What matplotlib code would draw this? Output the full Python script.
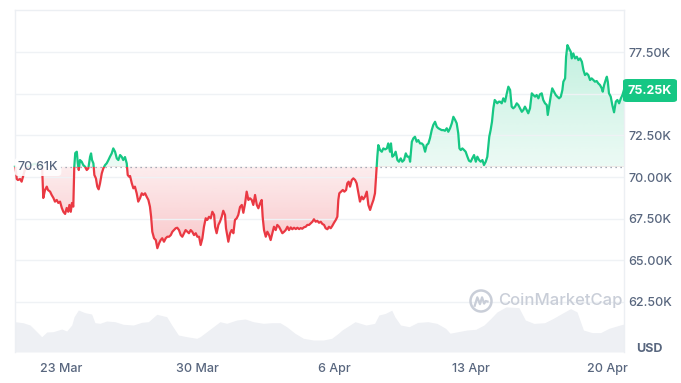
import numpy as np
import matplotlib
matplotlib.use("Agg")
import matplotlib.pyplot as plt
from matplotlib.patches import Polygon, Rectangle, Circle, FancyBboxPatch
from matplotlib.colors import to_rgb

plt.rcParams['font.family'] = ['Inter', 'DejaVu Sans']

# ---------------- data ----------------
# days since 23 Mar (00:00); price in thousands of USD
days = [
    -2.36, -2.31, -2.27, -2.21, -2.10, -2.02, -1.85, -1.59, -1.33, -1.08,
    -0.97, -0.91, -0.82, -0.73, -0.67, -0.56, -0.48, -0.39, -0.31, -0.22,
    -0.14, -0.05, 0.04, 0.12, 0.21, 0.29, 0.37, 0.43, 0.50, 0.56,
    0.63, 0.68, 0.73, 0.81, 0.86, 0.91, 0.97, 1.06, 1.14, 1.23,
    1.32, 1.40, 1.49, 1.54, 1.59, 1.66, 1.71, 1.79, 1.86, 1.93,
    2.00, 2.09, 2.17, 2.26, 2.34, 2.43, 2.51, 2.60, 2.68, 2.77,
    2.86, 2.94, 3.03, 3.11, 3.19, 3.28, 3.37, 3.42, 3.49, 3.54,
    3.63, 3.71, 3.79, 3.88, 3.96, 4.05, 4.14, 4.22, 4.31, 4.39,
    4.48, 4.56, 4.62, 4.68, 4.77, 4.86, 4.94, 5.03, 5.11, 5.19,
    5.28, 5.37, 5.45, 5.54, 5.63, 5.71, 5.79, 5.88, 5.96, 6.05,
    6.14, 6.22, 6.31, 6.39, 6.48, 6.56, 6.65, 6.73, 6.82, 6.91,
    6.99, 7.08, 7.16, 7.25, 7.33, 7.42, 7.50, 7.59, 7.68, 7.76,
    7.85, 7.90, 7.98, 8.07, 8.15, 8.24, 8.32, 8.41, 8.46, 8.58,
    8.67, 8.75, 8.84, 8.92, 9.01, 9.09, 9.18, 9.27, 9.35, 9.44,
    9.52, 9.61, 9.69, 9.78, 9.86, 9.95, 10.04, 10.12, 10.21, 10.29,
    10.34, 10.41, 10.50, 10.58, 10.67, 10.75, 10.84, 10.92, 11.01, 11.09,
    11.18, 11.27, 11.35, 11.44, 11.52, 11.61, 11.69, 11.78, 11.86, 11.95,
    12.04, 12.12, 12.21, 12.29, 12.37, 12.46, 12.55, 12.63, 12.72, 12.81,
    12.89, 12.97, 13.06, 13.14, 13.23, 13.32, 13.40, 13.49, 13.57, 13.66,
    13.74, 13.83, 13.91, 14.00, 14.09, 14.17, 14.22, 14.27, 14.36, 14.45,
    14.53, 14.62, 14.68, 14.75, 14.82, 14.91, 14.99, 15.08, 15.16, 15.25,
    15.33, 15.42, 15.50, 15.59, 15.68, 15.76, 15.85, 15.93, 16.02, 16.10,
    16.19, 16.22, 16.27, 16.36, 16.45, 16.53, 16.62, 16.71, 16.78, 16.87,
    16.92, 16.99, 17.08, 17.16, 17.25, 17.33, 17.42, 17.50, 17.59, 17.68,
    17.76, 17.85, 17.90, 17.99, 18.07, 18.15, 18.24, 18.32, 18.41, 18.50,
    18.58, 18.67, 18.75, 18.84, 18.92, 19.01, 19.09, 19.18, 19.27, 19.35,
    19.44, 19.52, 19.61, 19.69, 19.78, 19.86, 19.95, 20.04, 20.12, 20.21,
    20.29, 20.37, 20.43, 20.50, 20.58, 20.67, 20.75, 20.84, 20.92, 21.01,
    21.09, 21.18, 21.27, 21.35, 21.44, 21.52, 21.61, 21.69, 21.78, 21.86,
    21.91, 21.96, 22.03, 22.10, 22.17, 22.24, 22.31, 22.37, 22.45, 22.51,
    22.60, 22.68, 22.77, 22.86, 22.94, 23.03, 23.11, 23.19, 23.28, 23.37,
    23.45, 23.54, 23.63, 23.71, 23.79, 23.88, 23.96, 24.05, 24.14, 24.22,
    24.31, 24.39, 24.48, 24.56, 24.65, 24.73, 24.82, 24.91, 24.96, 25.03,
    25.11, 25.19, 25.28, 25.37, 25.45, 25.54, 25.63, 25.71, 25.76, 25.85,
    25.90, 25.97, 26.05, 26.14, 26.19, 26.27, 26.36, 26.45, 26.53, 26.62,
    26.71, 26.79, 26.87, 26.96, 27.04, 27.13, 27.21, 27.30, 27.38, 27.47,
    27.55, 27.64, 27.73, 27.78, 27.85, 27.93, 27.99, 28.04, 28.10, 28.19,
    28.27, 28.36, 28.45, 28.53, 28.62, 28.71, 28.79, 28.87,
]
price = [
    70.62, 70.32, 69.88, 69.82, 69.88, 69.72, 70.45, 70.70, 70.80, 70.70,
    70.60, 68.74, 69.22, 69.42, 69.22, 69.12, 68.92, 68.74, 68.52, 68.62,
    68.44, 68.52, 68.14, 67.91, 67.78, 68.14, 67.91, 68.32, 67.91, 68.44,
    68.22, 70.62, 71.44, 71.52, 70.84, 70.42, 71.02, 70.92, 70.72, 70.62,
    70.42, 70.52, 71.22, 71.42, 71.02, 70.82, 70.12, 69.92, 69.42, 69.26,
    69.62, 70.22, 70.52, 70.72, 70.82, 71.02, 71.22, 71.42, 71.72, 71.52,
    71.12, 71.02, 71.32, 71.22, 71.02, 71.20, 70.82, 70.12, 70.02, 70.06,
    69.62, 69.32, 69.42, 69.02, 68.52, 68.72, 69.02, 68.92, 69.02, 68.82,
    68.62, 68.22, 67.61, 66.71, 66.32, 66.21, 65.72, 66.02, 66.21, 66.32,
    66.11, 66.32, 66.41, 66.41, 66.51, 66.71, 66.81, 66.92, 66.95, 66.81,
    66.51, 66.41, 66.62, 66.81, 66.71, 66.62, 66.81, 66.71, 66.51, 66.62,
    66.41, 66.41, 65.91, 66.32, 67.01, 67.52, 67.42, 67.61, 67.52, 67.91,
    67.72, 67.01, 66.62, 67.12, 67.31, 67.61, 67.97, 67.72, 66.92, 66.11,
    66.62, 66.81, 66.62, 67.42, 67.52, 67.72, 68.20, 68.32, 67.85, 68.42,
    69.12, 68.62, 68.72, 68.62, 68.32, 68.92, 68.32, 68.12, 68.42, 68.62,
    67.61, 66.81, 66.41, 66.71, 66.51, 66.21, 66.62, 67.01, 66.81, 67.12,
    67.01, 66.81, 66.62, 66.71, 66.81, 67.01, 66.81, 66.97, 66.86, 66.95,
    66.87, 66.95, 66.87, 66.93, 66.89, 66.98, 67.01, 67.12, 67.12, 67.22,
    67.31, 67.46, 67.31, 67.37, 67.25, 67.31, 67.18, 67.12, 66.92, 66.86,
    67.01, 66.92, 67.06, 67.25, 67.42, 67.61, 68.62, 69.02, 69.12, 69.22,
    69.12, 69.22, 69.62, 69.72, 69.42, 69.82, 69.92, 69.82, 69.62, 69.02,
    68.52, 68.82, 68.66, 68.82, 69.12, 68.32, 68.02, 68.32, 68.62, 69.02,
    70.62, 71.22, 71.92, 71.62, 71.52, 71.72, 71.66, 71.72, 72.02, 71.52,
    72.02, 71.22, 71.32, 71.52, 71.02, 70.92, 71.12, 70.92, 71.02, 71.42,
    71.22, 71.22, 70.92, 72.12, 72.33, 72.42, 72.12, 72.22, 72.02, 72.02,
    71.92, 71.52, 71.92, 72.02, 72.33, 72.82, 73.13, 73.32, 73.02, 72.93,
    72.87, 72.82, 72.82, 72.78, 72.93, 72.72, 72.93, 73.23, 73.62, 73.43,
    73.23, 72.63, 71.72, 71.62, 71.72, 71.62, 71.52, 71.22, 70.98, 70.92,
    71.12, 71.32, 70.92, 71.22, 71.02, 70.92, 71.02, 70.72, 70.92, 71.22,
    71.82, 72.42, 72.82, 73.32, 74.13, 74.63, 74.53, 74.43, 74.53, 74.53,
    74.43, 74.73, 74.53, 75.03, 75.43, 75.23, 74.23, 74.13, 74.23, 74.43,
    74.33, 74.13, 73.92, 74.03, 74.23, 74.03, 73.83, 74.13, 75.03, 74.93,
    74.83, 74.93, 74.73, 74.97, 75.03, 74.63, 74.43, 74.33, 73.73, 74.23,
    74.83, 75.33, 75.13, 74.93, 74.83, 74.73, 74.83, 75.23, 75.73, 75.93,
    77.23, 77.93, 77.73, 77.53, 77.13, 77.43, 77.13, 77.23, 77.03, 77.13,
    76.93, 76.43, 76.13, 76.23, 76.13, 75.83, 75.93, 75.83, 75.73, 75.77,
    75.63, 75.53, 75.33, 75.13, 75.53, 75.83, 76.03, 75.73, 75.03, 74.83,
    74.33, 73.89, 74.53, 74.63, 74.43, 74.73, 74.93, 75.25,
]
open_price = 70.61      # reference (start) price, K USD
last_price = 75.25

vol_days = [
    -2.36, -1.95, -1.59, -1.33, -0.99, -0.73, -0.41, 0.04, 0.29, 0.55,
    0.67, 0.89, 1.23, 1.57, 1.74, 2.00, 2.34, 2.77, 3.19, 3.71,
    4.14, 4.48, 4.91, 5.42, 5.68, 6.02, 6.45, 6.96, 7.13, 7.47,
    7.81, 8.15, 8.50, 9.01, 9.44, 9.86, 10.37, 10.81, 11.23, 11.57,
    12.00, 12.43, 12.94, 13.45, 13.88, 14.22, 14.41, 15.08, 15.64, 16.08,
    16.30, 16.62, 16.96, 17.12, 17.41, 17.85, 18.29, 18.82, 19.28, 19.72,
    19.95, 20.38, 20.82, 21.27, 21.69, 22.04, 22.36, 22.82, 23.48, 23.81,
    24.25, 24.80, 25.24, 25.68, 26.13, 26.46, 26.79, 27.23, 27.67, 28.10,
    28.67, 28.87,
]
volume = [
    30.3, 29.3, 27.0, 22.0, 15.3, 20.0, 20.3, 23.0, 21.0, 27.0,
    35.3, 42.0, 39.3, 38.0, 29.3, 28.7, 31.0, 30.3, 27.7, 27.0,
    29.7, 30.3, 37.7, 35.3, 27.0, 17.0, 15.3, 13.7, 15.3, 20.3,
    25.3, 30.3, 28.7, 32.0, 33.0, 30.3, 28.7, 29.3, 29.3, 25.3,
    18.7, 13.7, 12.0, 12.0, 13.7, 18.7, 22.0, 30.3, 27.0, 28.6,
    37.0, 38.5, 41.8, 35.2, 27.0, 25.3, 29.6, 30.3, 28.6, 23.7,
    18.8, 20.4, 22.0, 22.7, 27.0, 33.6, 40.1, 45.1, 44.4, 32.0,
    28.6, 29.3, 33.6, 38.5, 43.4, 40.1, 22.0, 19.4, 19.4, 23.7,
    27.0, 28.0,
]

x_ticks = [0, 7, 14, 21, 28]
x_labels = ["23 Mar", "30 Mar", "6 Apr", "13 Apr", "20 Apr"]
y_ticks = [62.5, 65.0, 67.5, 70.0, 72.5, 75.0, 77.5]
# 75.00K sits under the last-price badge in the reference
y_labels = ["62.50K", "65.00K", "67.50K", "70.00K", "72.50K", "", "77.50K"]

# ---------------- style ----------------
GREEN = "#16c784"
RED = "#ea3943"
TXT = "#58667e"
GRID = "#eff2f5"

W, H = 681, 383
fig = plt.figure(figsize=(W / 100, H / 100), dpi=100)
L, R, T, B = 15, 624, 10, 352
ax = fig.add_axes([L / W, 1 - B / H, (R - L) / W, (B - T) / H])

t = np.array(days)
v = np.array(price)

xmin, xmax = days[0], days[-1]
ymin, ymax = 59.48, 80.04

# volume on a twin axis (behind)
ax2 = ax.twinx()
ax2.fill_between(vol_days, volume, 0, color="#eef0f4", lw=0, zorder=1)
ax2.set_ylim(0, B - T)
ax2.set_yticks([])
for s in ax2.spines.values():
    s.set_visible(False)
ax.set_zorder(ax2.get_zorder() + 1)
ax.patch.set_visible(False)

# area polygon between line and reference
poly = Polygon(np.column_stack([np.r_[t, t[::-1]],
                                np.r_[v, np.full(len(t), open_price)]]),
               closed=True, facecolor="none", edgecolor="none",
               transform=ax.transData)
ax.add_patch(poly)


def grad_img(color, lo, hi, a_lo, a_hi):
    arr = np.zeros((256, 1, 4))
    arr[..., :3] = to_rgb(color)
    arr[:, 0, 3] = np.linspace(a_lo, a_hi, 256)
    im = ax.imshow(arr, extent=[xmin, xmax, lo, hi], origin="lower",
                   aspect="auto", zorder=1, interpolation="bilinear")
    im.set_clip_path(poly)


grad_img(GREEN, open_price, max(price), 0.08, 0.26)
grad_img(RED, min(price), open_price, 0.28, 0.09)

# price line split by reference
clip_up = Rectangle((xmin - 1, open_price), xmax - xmin + 2, 50,
                    transform=ax.transData)
clip_dn = Rectangle((xmin - 1, open_price - 50), xmax - xmin + 2, 50,
                    transform=ax.transData)
lg, = ax.plot(t, v, color=GREEN, lw=1.6, zorder=3, solid_joinstyle="round")
lg.set_clip_path(clip_up)
lr, = ax.plot(t, v, color=RED, lw=1.6, zorder=3, solid_joinstyle="round")
lr.set_clip_path(clip_dn)

# dotted reference line
ax.axhline(open_price, color="#8a93a3", lw=0.9, ls=(0, (1, 3)), zorder=2)

ax.set_xlim(xmin, xmax)
ax.set_ylim(ymin, ymax)

# grid + spines
ax.set_yticks(y_ticks)
ax.set_yticklabels(y_labels)
ax.grid(axis="y", color=GRID, lw=1, zorder=0)
ax.yaxis.tick_right()
ax.tick_params(axis="y", length=0, pad=3, labelsize=9, labelcolor=TXT)
ax.set_xticks(x_ticks)
ax.set_xticklabels(x_labels)
ax.tick_params(axis="x", length=0, pad=8, labelsize=9, labelcolor=TXT)
for lab in ax.get_xticklabels() + ax.get_yticklabels():
    lab.set_fontweight("medium")
for side in ["top", "left", "right"]:
    ax.spines[side].set_color("#eceff3")
    ax.spines[side].set_linewidth(1)
ax.spines["bottom"].set_visible(False)

# start price label
ax.text(-1.18, open_price, "70.61K", ha="center", va="center", fontsize=9,
        color=TXT, fontweight="medium", zorder=5,
        bbox=dict(boxstyle="round,pad=0.25,rounding_size=0.3",
                  fc="white", ec="none", alpha=0.88))

# last price badge
fig.patches.append(FancyBboxPatch((623 / W, 1 - 102 / H), 54 / W, 23 / H,
                                  boxstyle="round,pad=0,rounding_size=0.006",
                                  transform=fig.transFigure, fc=GREEN,
                                  ec="none", zorder=10))
fig.text(650 / W, 1 - 90.5 / H, "75.25K", ha="center", va="center",
         color="white", fontsize=9, fontweight="bold", zorder=11)

# USD label
fig.text(649 / W, 1 - 349 / H, "USD", ha="center", va="center",
         color=TXT, fontsize=9, fontweight="bold")

# watermark
wm_col = "#c9ced8"
cx, cy, r = 4.81, (H - 301) / 100, 0.105
fig.patches.append(Circle((cx, cy), r, transform=fig.dpi_scale_trans,
                          fill=False, ec=wm_col, lw=1.8, zorder=2))
mx = np.array([-0.6, -0.35, -0.1, 0.1, 0.3, 0.45, 0.62]) * r + cx
my = np.array([-0.45, 0.35, -0.3, 0.35, -0.25, 0.0, -0.05]) * r + cy
fig.lines.append(plt.Line2D(mx, my, transform=fig.dpi_scale_trans,
                            color=wm_col, lw=1.6, zorder=2))
fig.text(498 / W, 1 - 301 / H, "CoinMarketCap", ha="left", va="center",
         color=wm_col, fontsize=12, fontweight="medium", zorder=2)

fig.savefig("out.png", dpi=100)
